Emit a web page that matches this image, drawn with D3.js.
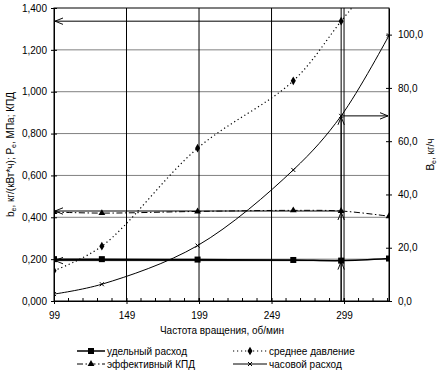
<!DOCTYPE html>
<html>
<head>
<meta charset="utf-8">
<script src="https://cdn.jsdelivr.net/npm/d3@7"></script>
<style>
  body { margin: 0; background: #fff; }
  svg { font-family: "Liberation Sans", Arial, sans-serif; }
</style>
</head>
<body>
<div id="chart"></div>
<script>
// rpm values (x axis)
var rpm = [99, 132, 198, 264, 297, 330];
// left axis series
var specific = [0.200, 0.200, 0.198, 0.196, 0.193, 0.203];   // удельный расход
var meanPress = [0.145, 0.262, 0.730, 1.052, 1.337, 1.620];  // среднее давление
var efficiency = [0.425, 0.420, 0.428, 0.433, 0.430, 0.405]; // эффективный КПД
// right axis series
var hourly = [2.6, 6.3, 20.8, 49.2, 69.5, 99.7];             // часовой расход
// the rpm where values were read off (index into rpm)
var readIdx = 4;

var xTicks = [99, 149, 199, 249, 299];
var yLeftTicks = [0, 0.2, 0.4, 0.6, 0.8, 1.0, 1.2, 1.4];
var yRightTicks = [0, 20, 40, 60, 80, 100];

var legendItems = [
    { name: "удельный расход", key: "sq" },
    { name: "среднее давление", key: "dm" },
    { name: "эффективный КПД", key: "tr" },
    { name: "часовой расход", key: "x" }
];

var W = 441, H = 374;
var pL = 54, pR = 389, pT = 8, pB = 301;

var svg = d3.select("#chart").append("svg").attr("width", W).attr("height", H);

var x = d3.scaleLinear().domain([99, 330]).range([pL, pR]);
var yL = d3.scaleLinear().domain([0, 1.4]).range([pB, pT]);
var yR = d3.scaleLinear().domain([0, 110]).range([pB, pT]);

var comma = function (f) { return function (v) { return d3.format(f)(v).replace(".", ","); }; };

var defs = svg.append("defs");
defs.append("clipPath").attr("id", "plot")
    .append("rect").attr("x", pL).attr("y", pT).attr("width", pR - pL).attr("height", pB - pT);
defs.append("marker")
    .attr("id", "arrow")
    .attr("viewBox", "0 0 10 10")
    .attr("refX", 10).attr("refY", 5)
    .attr("markerWidth", 8).attr("markerHeight", 8)
    .attr("markerUnits", "userSpaceOnUse")
    .attr("orient", "auto")
    .append("path").attr("d", "M0,1 L10,5 L0,9").attr("fill", "none").attr("stroke", "#000").attr("stroke-width", 1.2);

// horizontal gridlines (gray)
svg.append("g").selectAll("line").data(yLeftTicks.slice(1, -1)).enter().append("line")
    .attr("x1", pL).attr("x2", pR)
    .attr("y1", function (d) { return yL(d); }).attr("y2", function (d) { return yL(d); })
    .attr("stroke", "#808080").attr("stroke-width", 1);

// vertical gridlines (black)
svg.append("g").selectAll("line").data(xTicks.slice(1)).enter().append("line")
    .attr("x1", function (d) { return x(d); }).attr("x2", function (d) { return x(d); })
    .attr("y1", pT).attr("y2", pB)
    .attr("stroke", "#000").attr("stroke-width", 1);

// plot border
svg.append("rect").attr("x", pL).attr("y", pT).attr("width", pR - pL).attr("height", pB - pT)
    .attr("fill", "none").attr("stroke", "#000").attr("stroke-width", 1);

// left axis
var axL = d3.axisLeft(yL).tickValues(yLeftTicks).tickFormat(comma(".3f")).tickSizeInner(3).tickSizeOuter(0).tickPadding(4);
var gL = svg.append("g").attr("transform", "translate(" + pL + ",0)").call(axL);
gL.selectAll(".tick line").attr("x2", 3).attr("x1", -3);
// right axis
var axR = d3.axisRight(yR).tickValues(yRightTicks).tickFormat(comma(".1f")).tickSizeInner(3).tickSizeOuter(0).tickPadding(6);
var gR = svg.append("g").attr("transform", "translate(" + pR + ",0)").call(axR);
gR.selectAll(".tick line").attr("x1", -3).attr("x2", 3);
// bottom axis with minor ticks
var axB = d3.axisBottom(x).tickValues(xTicks).tickFormat(d3.format("d")).tickSizeInner(3).tickSizeOuter(0).tickPadding(8);
var gB = svg.append("g").attr("transform", "translate(0," + pB + ")").call(axB);
gB.selectAll(".tick line").attr("y1", -3).attr("y2", 3);
svg.append("g").selectAll("line").data(d3.range(109, 330, 10)).enter().append("line")
    .attr("x1", function (d) { return x(d); }).attr("x2", function (d) { return x(d); })
    .attr("y1", pB - 3).attr("y2", pB)
    .attr("stroke", "#000");
[gL, gR, gB].forEach(function (g) {
    g.select(".domain").attr("stroke", "#000");
    g.selectAll("text").attr("font-size", "10px").attr("fill", "#000").attr("font-family", "Liberation Sans, Arial, sans-serif");
});

// axis titles
var tl = svg.append("text").attr("transform", "translate(14," + ((pT + pB) / 2) + ") rotate(-90)")
    .attr("text-anchor", "middle").attr("font-size", "10px");
tl.append("tspan").text("b");
tl.append("tspan").attr("font-size", "7px").attr("dy", 2).text("e");
tl.append("tspan").attr("dy", -2).text(", кг/(кВт*ч); P");
tl.append("tspan").attr("font-size", "7px").attr("dy", 2).text("e");
tl.append("tspan").attr("dy", -2).text(", МПа; КПД");

var tr = svg.append("text").attr("transform", "translate(434," + ((pT + pB) / 2) + ") rotate(-90)")
    .attr("text-anchor", "middle").attr("font-size", "10px");
tr.append("tspan").text("B");
tr.append("tspan").attr("font-size", "7px").attr("dy", 2).text("e");
tr.append("tspan").attr("dy", -2).text(", кг/ч");

svg.append("text").attr("x", 222).attr("y", 334).attr("text-anchor", "middle").attr("font-size", "10px")
    .text("Частота вращения, об/мин");

// reading annotation at rpm[readIdx]
var rx = x(rpm[readIdx]);
var ann = svg.append("g").attr("stroke", "#000").attr("stroke-width", 1).attr("fill", "none");
ann.append("line").attr("x1", rx).attr("x2", rx).attr("y1", pB).attr("y2", pT);
var readLeft = [specific[readIdx], efficiency[readIdx], meanPress[readIdx]];
readLeft.forEach(function (v) {
    ann.append("line").attr("x1", rx).attr("x2", pL + 1).attr("y1", yL(v)).attr("y2", yL(v))
        .attr("marker-end", "url(#arrow)");
});
ann.append("line").attr("x1", rx).attr("x2", pR - 1).attr("y1", yR(hourly[readIdx])).attr("y2", yR(hourly[readIdx]))
    .attr("marker-end", "url(#arrow)");
var upFrom = [pB, yL(specific[readIdx]), yL(efficiency[readIdx])];
var upTo = [yL(specific[readIdx]), yL(efficiency[readIdx]), yR(hourly[readIdx])];
upFrom.forEach(function (y0, i) {
    ann.append("line").attr("x1", rx).attr("x2", rx).attr("y1", y0).attr("y2", upTo[i] + 1)
        .attr("marker-end", "url(#arrow)");
});

// series
var plot = svg.append("g").attr("clip-path", "url(#plot)");
var curve = d3.curveCatmullRom.alpha(0.5);
function drawLine(vals, scale, dash, width) {
    var line = d3.line().x(function (d, i) { return x(rpm[i]); }).y(function (d) { return scale(d); }).curve(curve);
    plot.append("path").datum(vals).attr("d", line).attr("fill", "none")
        .attr("stroke", "#000").attr("stroke-width", width).attr("stroke-dasharray", dash);
}
drawLine(specific, yL, null, 1.5);
drawLine(meanPress, yL, "1.2,2.8", 1.2);
drawLine(efficiency, yL, "6,2.5,1.5,2.5", 1);
drawLine(hourly, yR, null, 1);

function marker(g, key, cx, cy) {
    if (key === "sq") {
        g.append("rect").attr("x", cx - 3).attr("y", cy - 3).attr("width", 6).attr("height", 6).attr("fill", "#000");
    } else if (key === "dm") {
        g.append("path").attr("d", d3.symbol().type(d3.symbolDiamond).size(22)()).attr("transform", "translate(" + cx + "," + cy + ")").attr("fill", "#000");
    } else if (key === "tr") {
        g.append("path").attr("d", d3.symbol().type(d3.symbolTriangle).size(20)()).attr("transform", "translate(" + cx + "," + cy + ")").attr("fill", "#000");
    } else {
        g.append("path").attr("d", "M-2,-2L2,2M-2,2L2,-2").attr("transform", "translate(" + cx + "," + cy + ")")
            .attr("stroke", "#000").attr("stroke-width", 1).attr("fill", "none");
    }
}
var seriesPts = [[specific, yL, "sq"], [meanPress, yL, "dm"], [efficiency, yL, "tr"], [hourly, yR, "x"]];
seriesPts.forEach(function (s) {
    s[0].forEach(function (v, i) {
        var cy = s[1](v);
        if (cy < pT) return;
        marker(plot, s[2], x(rpm[i]), cy);
    });
});

// legend
var lg = svg.append("g");
var dashes = { sq: null, dm: "1.2,2.8", tr: "6,2.5,1.5,2.5", x: null };
var widths = { sq: 1.5, dm: 1.2, tr: 1, x: 1 };
legendItems.forEach(function (d, i) {
    var col = i % 2, row = Math.floor(i / 2);
    var x0 = col === 0 ? 77 : 233, x1 = col === 0 ? 105 : 267;
    var ly = 351 + row * 13;
    lg.append("line").attr("x1", x0).attr("x2", x1).attr("y1", ly).attr("y2", ly)
        .attr("stroke", "#000").attr("stroke-width", widths[d.key]).attr("stroke-dasharray", dashes[d.key]);
    marker(lg, d.key, (x0 + x1) / 2, ly);
    lg.append("text").attr("x", x1 + 2).attr("y", ly + 3.5).attr("font-size", "10px").text(d.name);
});
</script>
</body>
</html>
